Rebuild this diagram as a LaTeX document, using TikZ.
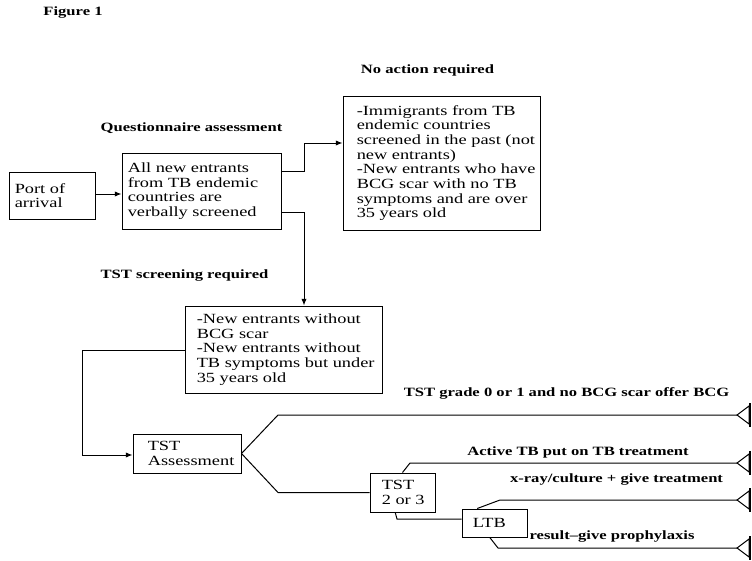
\documentclass[tikz,border=0pt]{standalone}
\usepackage{fontspec}
\setmainfont[FakeStretch=1.31]{Liberation Serif}
\usetikzlibrary{arrows.meta}
\begin{document}
\begin{tikzpicture}[x=0.75pt,y=-0.75pt,
  box/.style={draw, line width=0.75pt, inner sep=0pt},
  txt/.style={align=left, inner sep=0pt, anchor=west, font=\fontsize{10.5pt}{11pt}\selectfont},
  lbl/.style={inner sep=0pt, font=\fontsize{9.5pt}{10pt}\selectfont\bfseries},
  con/.style={line width=0.75pt},
  arr/.style={con, -{Latex[length=5pt,width=4pt]}},
  endtri/.style={line width=0.75pt},
  endbar/.style={line width=1.2pt}
]
\useasboundingbox (0,0) rectangle (752,560);

% boxes
\node[box, minimum width=64.5pt, minimum height=35.25pt] (port) at (52,195.5) {};
\node[txt] (tport) at ([xshift=4.5pt]port.west) {Port of\\arrival};

\node[box, minimum width=119.25pt, minimum height=57pt] (allnew) at (201.5,191) {};
\node[txt] (tallnew) at ([xshift=4.5pt]allnew.west) {All new entrants\\from TB endemic\\countries are\\verbally screened};

\node[box, minimum width=147.75pt, minimum height=100.5pt] (noact) at (441.5,163) {};
\node[txt] (tnoact) at ([xshift=10.5pt]noact.west) {-Immigrants from TB\\endemic countries\\screened in the past (not\\new entrants)\\-New entrants who have\\BCG scar with no TB\\symptoms and are over\\35 years old};

\node[box, minimum width=147.75pt, minimum height=65.25pt] (tstbox) at (283.5,349.5) {};
\node[txt] (ttstbox) at ([xshift=9pt]tstbox.west) {-New entrants without\\BCG scar\\-New entrants without\\TB symptoms but under\\35 years old};

\node[box, minimum width=81pt, minimum height=29.25pt] (tstA) at (187,453.5) {};
\node[txt] (ttstA) at ([xshift=11.25pt]tstA.west) {TST\\Assessment};

\node[box, minimum width=48.75pt, minimum height=29.25pt] (tst23) at (402.5,492.5) {};
\node[txt] (ttst23) at ([xshift=9pt]tst23.west) {TST\\2 or 3};

\node[box, minimum width=48.75pt, minimum height=21pt] (ltb) at (494.5,523) {};
\node[txt] (tltb) at ([xshift=8.25pt]ltb.west) {LTB};

% labels
\node[lbl] (fig) at (73,13) {Figure 1};
\node[lbl] (lq) at (191.5,128) {Questionnaire assessment};
\node[lbl] (lna) at (427.5,70) {No action required};
\node[lbl] (lts) at (184.5,275) {TST screening required};
\node[lbl] (lg) at (566.5,393) {TST grade 0 or 1 and no BCG scar offer BCG};
\node[lbl] (la) at (578,452) {Active TB put on TB treatment};
\node[lbl] (lx) at (616.5,479) {x-ray/culture + give treatment};
\node[lbl] (lr) at (612,536) {result--give prophylaxis};

% bend coordinates
\coordinate (h194) at (0,194);
\coordinate (k1) at (304,171);
\coordinate (k2) at (304,143);
\coordinate (k3) at (304,212);
\coordinate (k4) at (82,350);
\coordinate (k5) at (82,455);
\coordinate (b1) at (278,415);
\coordinate (b2) at (278,492.5);
\coordinate (b3) at (410,463);
\coordinate (b4) at (397,519);
\coordinate (b5) at (500,500);
\coordinate (b6) at (498,548);
\coordinate (e1) at (737,415);
\coordinate (e2) at (737,463);
\coordinate (e3) at (737,500);
\coordinate (e4) at (737,548);

% connectors
\draw[arr] (port.east |- h194) -- (allnew.west |- h194);
\draw[arr] (allnew.east |- k1) -- (k1) -- (k2) -- (noact.west |- k2);
\draw[arr] (allnew.east |- k3) -- (k3) -- (k3 |- tstbox.north);
\draw[arr] (tstbox.west |- k4) -- (k4) -- (k5) -- (tstA.west |- k5);
\draw[con] (tstA.east) -- (b1) -- (e1);
\draw[con] (tstA.east) -- (b2) -- (tst23.west);
\draw[con] (tst23.north) -- (b3) -- (e2);
\draw[con] (tst23.250) -- (b4) -- (ltb.west |- b4);
\draw[con] (ltb.140) -- (b5) -- (e3);
\draw[con] (ltb.252) -- (b6) -- (e4);

% open triangle ends
\foreach \e in {e1,e2,e3,e4}{
  \draw[endtri] (\e) -- ++(12,-9) -- ++(0,18) -- cycle;
  \draw[endbar] ([shift={(13,-12)}]\e) -- ++(0,24);
}
\end{tikzpicture}
\end{document}
